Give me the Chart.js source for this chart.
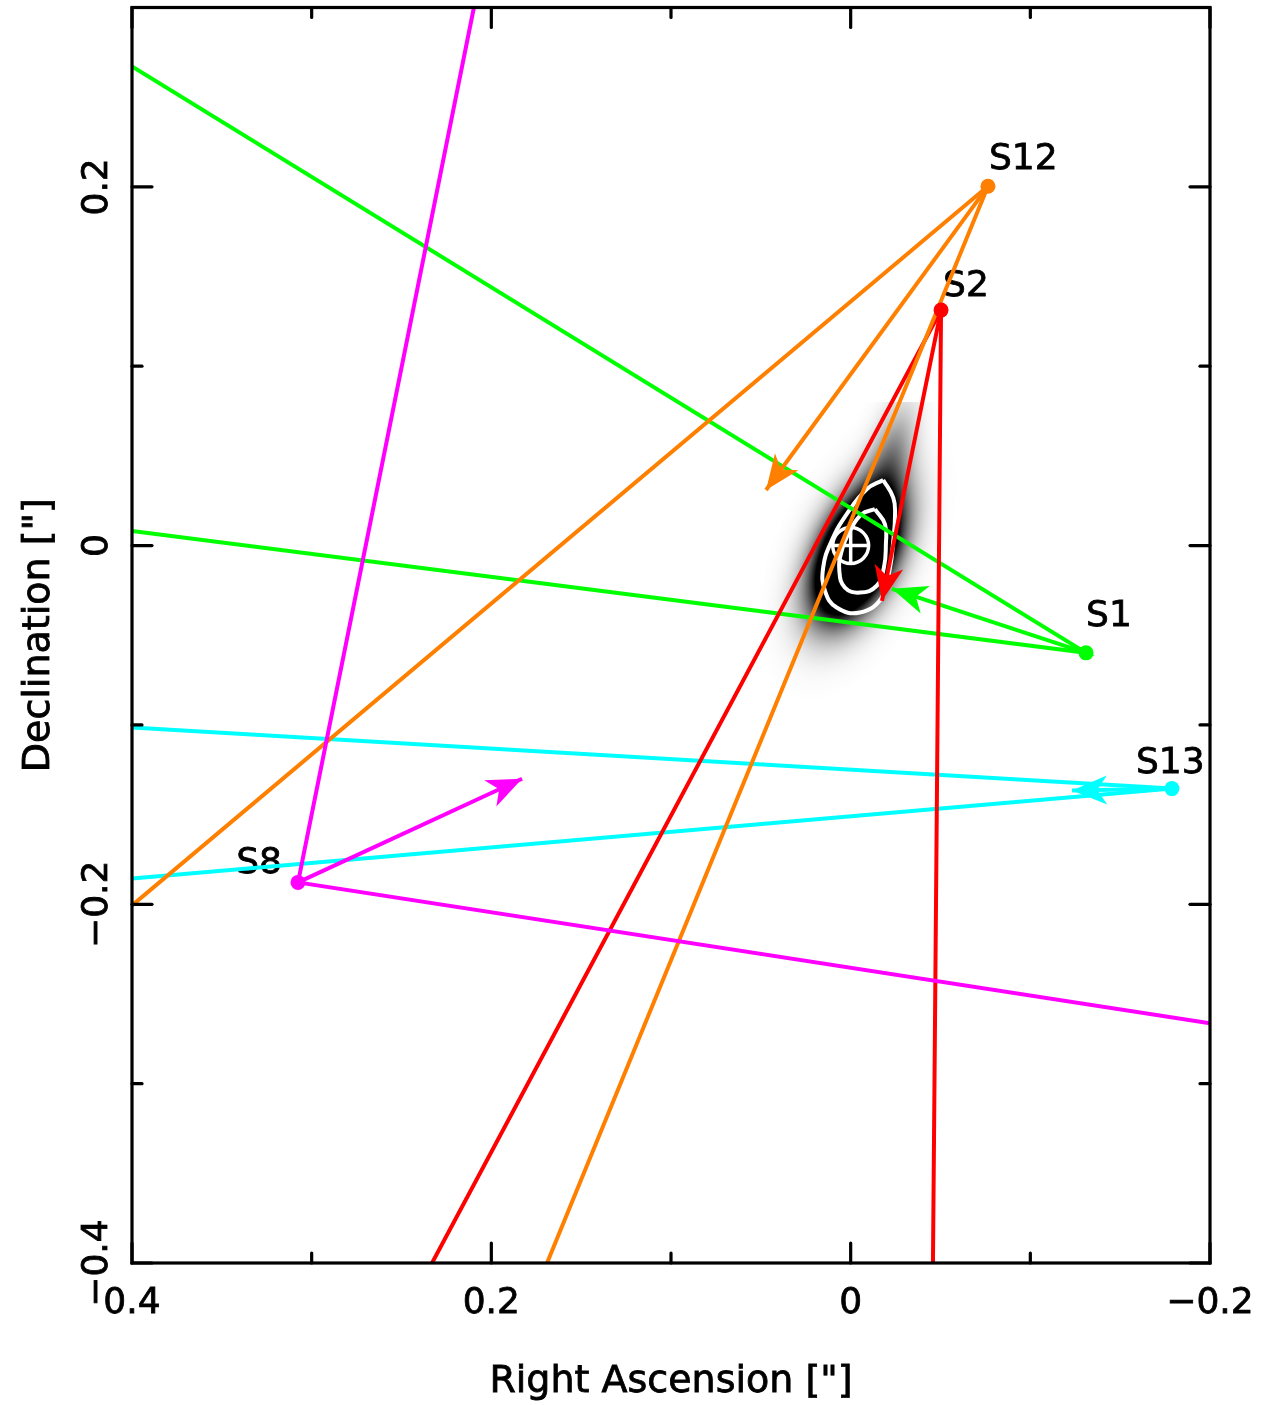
<!DOCTYPE html>
<html>
<head>
<meta charset="utf-8">
<script src="https://cdn.jsdelivr.net/npm/chart.js@4/dist/chart.umd.min.js"></script>
<style>
  html, body { margin: 0; padding: 0; background: #ffffff; }
  canvas { display: block; }
</style>
</head>
<body>
<canvas id="orbits" width="1272" height="1405"></canvas>
<script>
// ---- stars: positions, proper-motion arrow tips and the two edges of each cone (arcsec) ----
const starNames  = ['S8', 'S12', 'S2', 'S1', 'S13'];
const starColors = ['#ff00ff', '#ff8000', '#ff0000', '#00ff00', '#00ffff'];
const starRA     = [0.3076, -0.0764, -0.0503, -0.1310, -0.1788];
const starDec    = [-0.1878, 0.2003, 0.1313, -0.0598, -0.1355];
const arrowRA    = [0.1829, 0.0471, -0.0174, -0.0230, -0.1232];
const arrowDec   = [-0.1300, 0.0310, -0.0308, -0.0241, -0.1366];
const coneARA    = [0.2097, 0.4000, 0.2330, 0.4000, 0.4000];
const coneADec   = [0.3000, -0.2006, -0.4000, 0.2671, -0.1015];
const coneBRA    = [-0.2000, 0.1690, -0.0458, 0.4000, 0.4000];
const coneBDec   = [-0.2664, -0.4000, -0.4000, 0.0082, -0.1856];

// ---- central source: contour levels (arcsec) ----
const outerContourRA  = [-0.0181, -0.0237, -0.0247, -0.0237, -0.0219, -0.0173, -0.0052, 0.0078, 0.0143, 0.0153, 0.0106, 0.0022, -0.0089];
const outerContourDec = [0.0366, 0.0267, 0.0175, 0.0026, -0.0123, -0.0290, -0.0373, -0.0345, -0.0252, -0.0123, 0.0026, 0.0175, 0.0314];
const innerContourRA  = [-0.0135, -0.0191, -0.0196, -0.0185, -0.0145, -0.0052, 0.0032, 0.0063, 0.0050, 0.0004, -0.0061];
const innerContourDec = [0.0203, 0.0119, 0.0008, -0.0123, -0.0224, -0.0262, -0.0234, -0.0141, -0.0030, 0.0082, 0.0175];

// gaussian components of the probability map (RA, Dec, sigma major, sigma minor, PA deg, weight)
const blobRA     = [-0.0035, -0.0240];
const blobDec    = [-0.0045, 0.0560];
const blobSigMaj = [0.0290, 0.0220];
const blobSigMin = [0.0152, 0.0090];
const blobPA     = [-25, -15];
const blobWeight = [1.0, 0.20];
const blobDecMax = 0.080;

// reference marker for the centre
const centreRA = 0, centreDec = 0, centreRadius = 0.0100;

// ---- axes ----
const xMajorTicks = [0.4, 0.2, 0, -0.2];
const xTickLabels = ['0.4', '0.2', '0', '\u22120.2'];
const xMinorTicks = [0.3, 0.1, -0.1];
const yMajorTicks = [-0.4, -0.2, 0, 0.2];
const yTickLabels = ['\u22120.4', '\u22120.2', '0', '0.2'];
const yMinorTicks = [-0.3, -0.1, 0.1];
const xTitle = 'Right Ascension ["]';
const yTitle = 'Declination ["]';

// label placement next to each star (pixel offsets, alignment)
const labelStyle = {
  S8:  { dx: -16, dy: -9,  align: 'right' },
  S12: { dx: 1,   dy: -17, align: 'left' },
  S2:  { dx: 2,   dy: -14, align: 'left' },
  S1:  { dx: 0,   dy: -27, align: 'left' },
  S13: { dx: -36, dy: -16, align: 'left' }
};

const FONT = '"DejaVu Sans", "Noto Sans", sans-serif';
const LINE_W = 4;

// ---- datasets ----
const pt = (x, y) => ({ x, y });
const datasets = [];

// star dots on top
datasets.push({
  label: 'stars',
  data: starNames.map((n, i) => pt(starRA[i], starDec[i])),
  backgroundColor: starColors,
  borderColor: starColors,
  pointRadius: 7.5,
  pointBorderWidth: 0,
  showLine: false,
  order: 0
});

starNames.forEach((n, i) => {
  datasets.push({
    label: n + ' cone',
    data: [pt(coneARA[i], coneADec[i]), pt(starRA[i], starDec[i]), pt(coneBRA[i], coneBDec[i])],
    borderColor: starColors[i],
    borderWidth: LINE_W,
    pointRadius: 0,
    showLine: true,
    tension: 0,
    clip: 0,
    order: 1
  });
  datasets.push({
    label: n + ' motion',
    data: [pt(starRA[i], starDec[i]), pt(arrowRA[i], arrowDec[i])],
    borderColor: starColors[i],
    borderWidth: LINE_W,
    pointRadius: 0,
    showLine: true,
    tension: 0,
    clip: 0,
    order: 1
  });
});

const closed = (ra, dec) => ra.map((v, i) => pt(v, dec[i])).concat([pt(ra[0], dec[0])]);
[[outerContourRA, outerContourDec], [innerContourRA, innerContourDec]].forEach(([ra, dec], k) => {
  datasets.push({
    label: 'contour ' + k,
    data: closed(ra, dec),
    borderColor: '#ffffff',
    borderWidth: 4,
    pointRadius: 0,
    showLine: true,
    tension: 0.45,
    order: 2
  });
});

// ---- plugins ----
function blobDensity(ra, dec) {
  let d = 0;
  for (let i = 0; i < blobRA.length; i++) {
    const pa = blobPA[i] * Math.PI / 180;
    const ux = Math.sin(pa), uy = Math.cos(pa);
    const vx = Math.cos(pa), vy = -Math.sin(pa);
    const dx = ra - blobRA[i], dy = dec - blobDec[i];
    const a = dx * ux + dy * uy, b = dx * vx + dy * vy;
    d += blobWeight[i] * Math.exp(-0.5 * (a * a / (blobSigMaj[i] ** 2) + b * b / (blobSigMin[i] ** 2)));
  }
  return d;
}

function drawText(ctx, text, px, py) {
  ctx.fillText(text, px, py);
  ctx.strokeText(text, px, py);
}

const backdrop = {
  id: 'backdrop',
  beforeDatasetsDraw(chart) {
    const { ctx, scales: { x, y } } = chart;
    // probability map around the centre, cut off at its upper edge
    const cx = x.getPixelForValue(centreRA), cy = y.getPixelForValue(centreDec);
    const top = Math.round(y.getPixelForValue(blobDecMax));
    const x0 = Math.round(cx - 220), y0 = top;
    const w = 440, h = Math.round(cy + 260 - top);
    const img = ctx.getImageData(x0, y0, w, h);
    for (let j = 0; j < h; j++) {
      const dec = y.getValueForPixel(y0 + j + 0.5);
      for (let i = 0; i < w; i++) {
        const ra = x.getValueForPixel(x0 + i + 0.5);
        const t = Math.min(1, 2.2 * blobDensity(ra, dec));
        const v = Math.pow(t, 1.5);
        if (v < 0.004) continue;
        const g = Math.round(255 * (1 - v));
        const k = (j * w + i) * 4;
        img.data[k] = g; img.data[k + 1] = g; img.data[k + 2] = g; img.data[k + 3] = 255;
      }
    }
    ctx.putImageData(img, x0, y0);

    // centre marker
    const r = Math.abs(x.getPixelForValue(centreRA + centreRadius) - cx);
    ctx.save();
    ctx.strokeStyle = '#ffffff';
    ctx.lineWidth = 3.5;
    ctx.beginPath();
    ctx.arc(cx, cy, r, 0, Math.PI * 2);
    ctx.moveTo(cx - r, cy); ctx.lineTo(cx + r, cy);
    ctx.moveTo(cx, cy - r); ctx.lineTo(cx, cy + r);
    ctx.stroke();

    // star names
    ctx.fillStyle = '#000000';
    ctx.strokeStyle = '#000000';
    ctx.lineWidth = 0.8;
    ctx.font = '36px ' + FONT;
    ctx.textBaseline = 'alphabetic';
    starNames.forEach((n, i) => {
      const s = labelStyle[n];
      ctx.textAlign = s.align;
      drawText(ctx, n, x.getPixelForValue(starRA[i]) + s.dx, y.getPixelForValue(starDec[i]) + s.dy);
    });
    ctx.restore();
  },
  afterDatasetsDraw(chart) {
    const { ctx, scales: { x, y } } = chart;
    ctx.save();
    starNames.forEach((n, i) => {
      const x0 = x.getPixelForValue(starRA[i]), y0 = y.getPixelForValue(starDec[i]);
      const x1 = x.getPixelForValue(arrowRA[i]), y1 = y.getPixelForValue(arrowDec[i]);
      const ang = Math.atan2(y1 - y0, x1 - x0);
      const L = 35, W = 14.5, N = 0.72;
      const bx = -Math.cos(ang), by = -Math.sin(ang);
      const nx = -by, ny = bx;
      ctx.beginPath();
      ctx.moveTo(x1, y1);
      ctx.lineTo(x1 + bx * L + nx * W, y1 + by * L + ny * W);
      ctx.lineTo(x1 + bx * L * N, y1 + by * L * N);
      ctx.lineTo(x1 + bx * L - nx * W, y1 + by * L - ny * W);
      ctx.closePath();
      ctx.fillStyle = starColors[i];
      ctx.fill();
    });
    ctx.restore();
  }
};

const frameAxes = {
  id: 'frameAxes',
  afterDraw(chart) {
    const { ctx, chartArea: a, scales: { x, y } } = chart;
    ctx.save();
    ctx.strokeStyle = '#000000';
    ctx.lineWidth = 3.2;
    ctx.lineJoin = 'miter';
    ctx.strokeRect(a.left, a.top, a.right - a.left, a.bottom - a.top);

    ctx.lineCap = 'round';
    const seg = (px, py, dx, dy) => { ctx.beginPath(); ctx.moveTo(px, py); ctx.lineTo(px + dx, py + dy); ctx.stroke(); };
    const xt = (vals, len) => vals.forEach(v => { const p = x.getPixelForValue(v); seg(p, a.bottom, 0, -len); seg(p, a.top, 0, len); });
    const yt = (vals, len) => vals.forEach(v => { const p = y.getPixelForValue(v); seg(a.left, p, len, 0); seg(a.right, p, -len, 0); });
    xt(xMajorTicks, 20); xt(xMinorTicks, 10);
    yt(yMajorTicks, 20); yt(yMinorTicks, 10);

    ctx.lineCap = 'butt';
    ctx.lineWidth = 0.8;
    ctx.fillStyle = '#000000';
    ctx.font = '36px ' + FONT;
    ctx.textBaseline = 'alphabetic';
    ctx.textAlign = 'center';
    xMajorTicks.forEach((v, i) => drawText(ctx, xTickLabels[i], x.getPixelForValue(v), a.bottom + 50));
    yMajorTicks.forEach((v, i) => {
      ctx.save();
      ctx.translate(a.left - 25, y.getPixelForValue(v));
      ctx.rotate(-Math.PI / 2);
      drawText(ctx, yTickLabels[i], 0, 0);
      ctx.restore();
    });

    ctx.font = '38px ' + FONT;
    drawText(ctx, xTitle, (a.left + a.right) / 2, a.bottom + 129);
    ctx.save();
    ctx.translate(a.left - 83, (a.top + a.bottom) / 2);
    ctx.rotate(-Math.PI / 2);
    drawText(ctx, yTitle, 0, 0);
    ctx.restore();
    ctx.restore();
  }
};

new Chart(document.getElementById('orbits'), {
  type: 'scatter',
  data: { datasets },
  options: {
    responsive: false,
    devicePixelRatio: 1,
    animation: false,
    layout: { padding: { left: 132, top: 6, right: 62, bottom: 142 } },
    scales: {
      x: { type: 'linear', reverse: true, min: -0.2, max: 0.4, display: false },
      y: { type: 'linear', min: -0.4, max: 0.3, display: false }
    },
    plugins: { legend: { display: false }, tooltip: { enabled: false } }
  },
  plugins: [backdrop, frameAxes]
});
</script>
</body>
</html>
